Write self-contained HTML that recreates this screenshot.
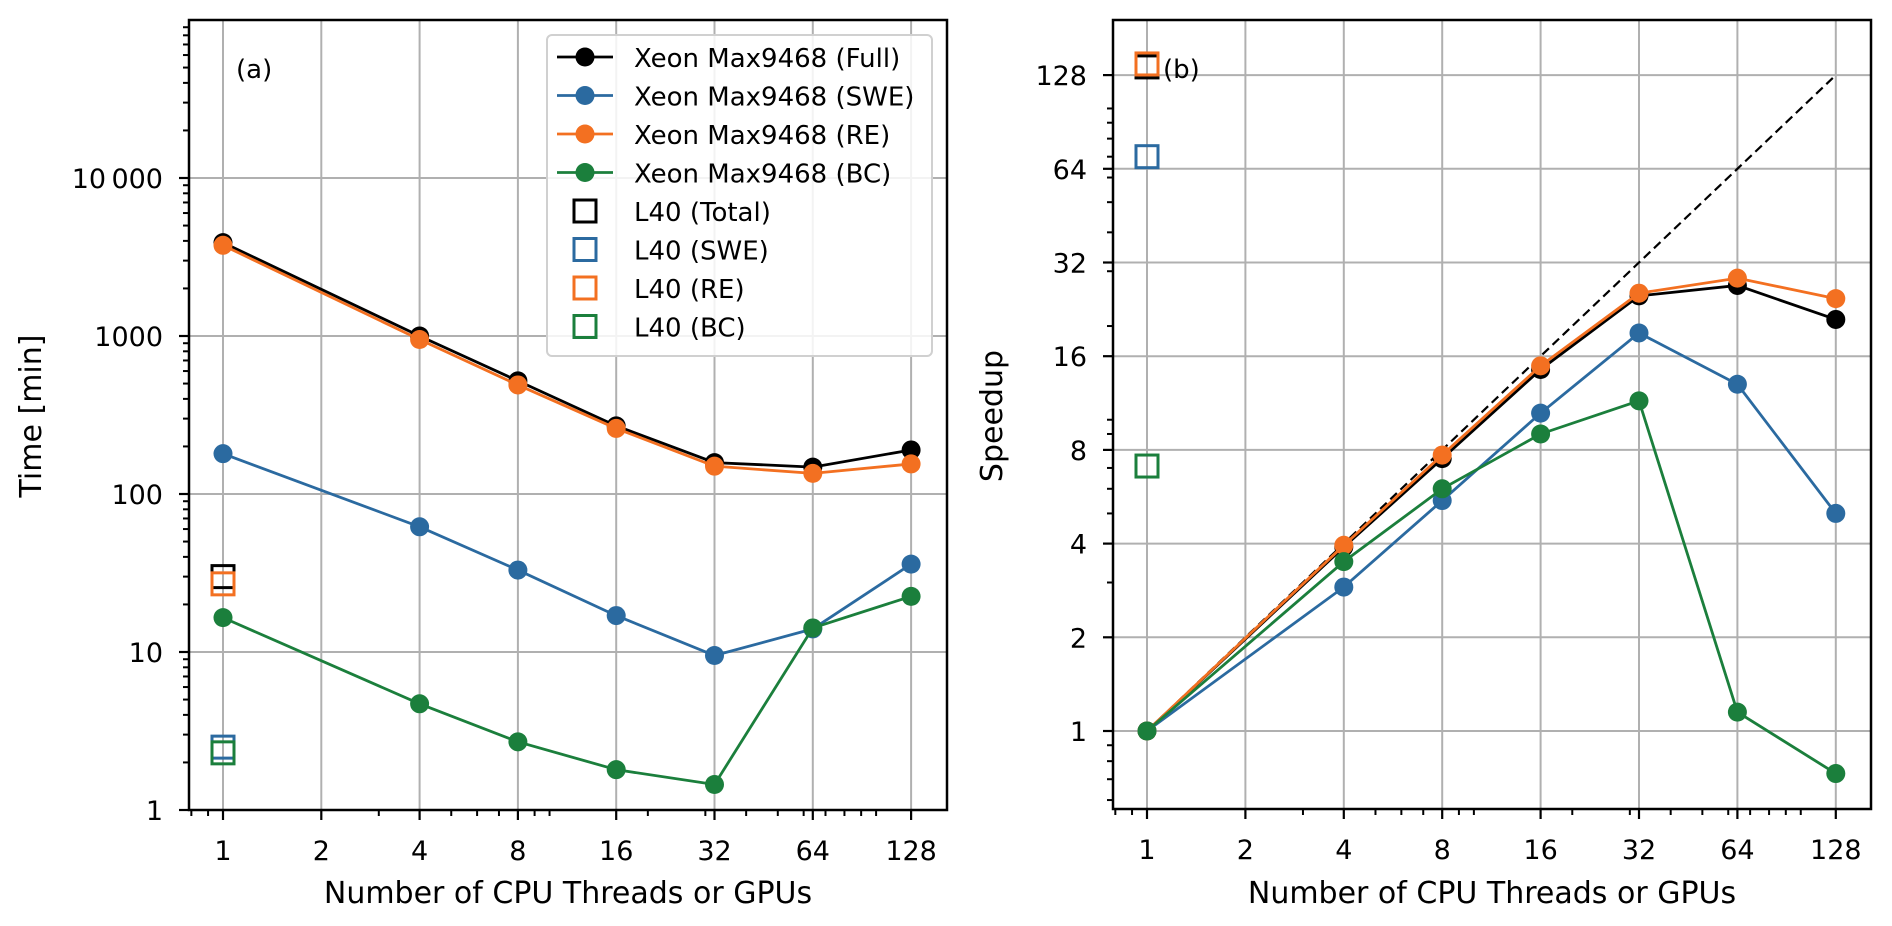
<!DOCTYPE html>
<html><head><meta charset="utf-8">
<style>
html,body{margin:0;padding:0;background:#fff;}
svg{display:block;font-family:"DejaVu Sans","Liberation Sans",sans-serif;}
</style></head>
<body>
<svg id="chart" width="1892" height="926" viewBox="0 0 1892 926" xmlns="http://www.w3.org/2000/svg"></svg>
<script>
const threads = [1, 4, 8, 16, 32, 64, 128];
const timeFull = [3900, 1000, 520, 270, 158, 148, 190];
const timeSWE = [180, 62, 33, 17, 9.5, 14, 36];
const timeRE = [3750, 950, 490, 260, 150, 135, 155];
const timeBC = [16.5, 4.7, 2.7, 1.8, 1.45, 14.2, 22.5];
const l40Time = [30, 2.5, 27, 2.3];      // Total, SWE, RE, BC
const spFull = [1, 3.9, 7.5, 14.5, 25, 27, 21];
const spSWE = [1, 2.9, 5.5, 10.5, 19, 13, 5];
const spRE = [1, 3.95, 7.7, 14.9, 25.5, 28.5, 24.5];
const spBC = [1, 3.5, 6, 9, 11.5, 1.15, 0.73];
const l40Speed = [136, 70, 139, 7.1];    // Total, SWE, RE, BC
const xTicks = [1, 2, 4, 8, 16, 32, 64, 128];
const leftYTicks = [1, 10, 100, 1000, 10000];
const leftYLabels = ["1", "10", "100", "1000", "10\u2009000"];
const rightYTicks = [1, 2, 4, 8, 16, 32, 64, 128];
const seriesNames = ["Xeon Max9468 (Full)", "Xeon Max9468 (SWE)", "Xeon Max9468 (RE)", "Xeon Max9468 (BC)"];
const l40Names = ["L40 (Total)", "L40 (SWE)", "L40 (RE)", "L40 (BC)"];

const C = {k:"#000000", b:"#2b6aa0", o:"#f37021", g:"#1b7f3c"};
const svg = document.getElementById('chart');
const NS = "http://www.w3.org/2000/svg";
function el(tag, attrs, parent){ const e=document.createElementNS(NS,tag); for(const k in attrs) e.setAttribute(k,attrs[k]); (parent||svg).appendChild(e); return e; }

const LA = {x0:189, x1:947, y0:20, y1:810};
const lx = n => 223 + 98.3*Math.log2(n);
const ly = v => 810 - 158*Math.log10(v);
const RA = {x0:1113, x1:1871, y0:20, y1:809};
const rx = n => 1147 + 98.4*Math.log2(n);
const ry = s => 731 - 93.7*Math.log2(s);

function drawAxes(A, fx, fy, yTicks, yLabels, yMinor, name){
  const g = el('g', {});
  
  
  xTicks.forEach(t=>{ const l=el('line',{x1:fx(t),x2:fx(t),y1:A.y0,y2:A.y1,stroke:"#b0b0b0","stroke-width":2},g);
      });
  yTicks.forEach(t=>{ const l=el('line',{x1:A.x0,x2:A.x1,y1:fy(t),y2:fy(t),stroke:"#b0b0b0","stroke-width":2},g);
      });
  for(let e=-1;e<=2;e++) for(let m=1;m<=9;m++){ const v=m*Math.pow(10,e); const x=fx(v);
    if(x<A.x0||x>A.x1) continue; if(xTicks.includes(v)) continue;
    el('line',{x1:x,x2:x,y1:A.y1,y2:A.y1+6,stroke:"#000","stroke-width":2},g); }
  yMinor.forEach(v=>{ const y=fy(v); if(y<A.y0||y>A.y1) return;
    el('line',{x1:A.x0,x2:A.x0-6,y1:y,y2:y,stroke:"#000","stroke-width":2},g); });
  xTicks.forEach(t=>{ el('line',{x1:fx(t),x2:fx(t),y1:A.y1,y2:A.y1+10,stroke:"#000","stroke-width":2.2},g);
    const tx=el('text',{x:fx(t),y:A.y1+50,"font-size":27,"text-anchor":"middle"},g); tx.textContent=t;
      });
  yTicks.forEach((t,i)=>{ el('line',{x1:A.x0,x2:A.x0-10,y1:fy(t),y2:fy(t),stroke:"#000","stroke-width":2.2},g);
    const tx=el('text',{x:A.x0-26,y:fy(t)+10,"font-size":27,"text-anchor":"end"},g); tx.textContent=yLabels[i];
      });
}

function series(fx, fy, xs, ys, color, name){
  const g = el('g', {});
  
  
  const pts = xs.map((x,i)=>fx(x)+","+fy(ys[i])).join(" ");
  el('polyline',{points:pts,fill:"none",stroke:color,"stroke-width":2.8},g);
  xs.forEach((x,i)=>{ const c=el('circle',{cx:fx(x),cy:fy(ys[i]),r:9.5,fill:color},g);
      });
}
function square(cx, cy, color, name){
  const r = el('rect',{x:cx-11,y:cy-11,width:22,height:22,fill:"none",stroke:color,"stroke-width":3});
  
  
}

const leftMinor=[]; for(let e=0;e<5;e++) for(let m=2;m<=9;m++) leftMinor.push(m*Math.pow(10,e));
const rightMinor=[]; for(let e=-1;e<=2;e++) for(let m=1;m<=9;m++){ const v=m*Math.pow(10,e); if(!rightYTicks.includes(v)) rightMinor.push(v); }

drawAxes(LA, lx, ly, leftYTicks, leftYLabels, leftMinor, 'left-axes');
drawAxes(RA, rx, ry, rightYTicks, rightYTicks.map(String), rightMinor, 'right-axes');

const sc = [C.k, C.b, C.o, C.g];
[timeFull, timeSWE, timeRE, timeBC].forEach((d,i)=>series(lx, ly, threads, d, sc[i], 'time-series-'+i));
l40Time.forEach((v,i)=>square(lx(1), ly(v), sc[i], 'l40-time-marker'));

const ideal = el('line',{x1:rx(1),y1:ry(1),x2:rx(128),y2:ry(128),stroke:"#000","stroke-width":2.2,"stroke-dasharray":"9,5"});


[spFull, spSWE, spRE, spBC].forEach((d,i)=>series(rx, ry, threads, d, sc[i], 'speedup-series-'+i));
l40Speed.forEach((v,i)=>square(rx(1), ry(v), sc[i], 'l40-speedup-marker'));

[LA,RA].forEach(A=>{ const f=el('rect',{x:A.x0,y:A.y0,width:A.x1-A.x0,height:A.y1-A.y0,fill:"none",stroke:"#000","stroke-width":2.5});
    });

const lg = el('g',{});


el('rect',{x:547,y:35,width:385,height:321,rx:5,fill:"#fff","fill-opacity":0.85,stroke:"#d0d0d0","stroke-width":2},lg);
seriesNames.forEach((n,i)=>{ const y=57+38.5*i;
  el('line',{x1:557,x2:613,y1:y,y2:y,stroke:sc[i],"stroke-width":2.8},lg);
  el('circle',{cx:585,cy:y,r:9.5,fill:sc[i]},lg);
  const t=el('text',{x:634,y:y+10,"font-size":26},lg); t.textContent=n;
    });
l40Names.forEach((n,i)=>{ const y=57+38.5*(i+4);
  el('rect',{x:574,y:y-11,width:22,height:22,fill:"none",stroke:sc[i],"stroke-width":3},lg);
  const t=el('text',{x:634,y:y+10,"font-size":26},lg); t.textContent=n;
    });
</script>
<div style="position:absolute;left:0;top:0;width:1892px;height:926px;pointer-events:none;font-family:'DejaVu Sans','Liberation Sans',sans-serif;">
  <div style="position:absolute;left:236px;top:55px;font-size:26px;">(a)</div>
  <div style="position:absolute;left:1163px;top:55px;font-size:26px;">(b)</div>
  <div style="position:absolute;left:218px;width:700px;text-align:center;top:876px;font-size:30px;line-height:36px;">Number of CPU Threads or GPUs</div>
  <div style="position:absolute;left:1142px;width:700px;text-align:center;top:876px;font-size:30px;line-height:36px;">Number of CPU Threads or GPUs</div>
  <div style="position:absolute;left:-68px;width:200px;text-align:center;top:398px;font-size:30px;line-height:36px;transform:rotate(-90deg);">Time [min]</div>
  <div style="position:absolute;left:893px;width:200px;text-align:center;top:398px;font-size:30px;line-height:36px;transform:rotate(-90deg);">Speedup</div>
</div>
</body></html>
